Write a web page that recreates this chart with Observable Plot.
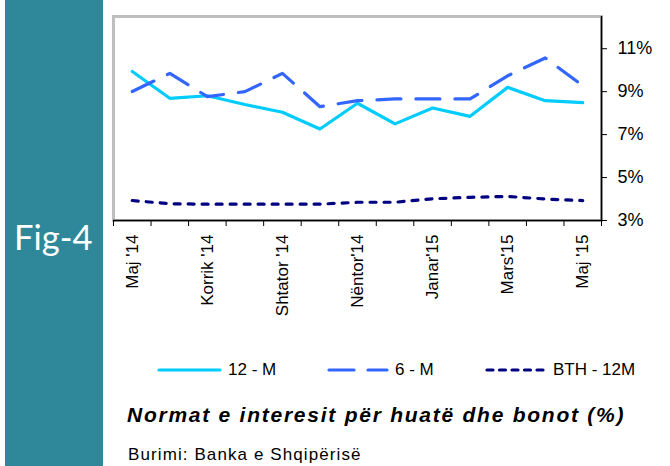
<!DOCTYPE html>
<html>
<head>
<meta charset="utf-8">
<script src="https://cdn.jsdelivr.net/npm/d3@7"></script>
<script src="https://cdn.jsdelivr.net/npm/@observablehq/plot@0.6"></script>
<style>
  html, body { margin: 0; padding: 0; background: #fff; }
  #page { position: relative; width: 670px; height: 466px; overflow: hidden; font-family: "Liberation Sans", Arial, sans-serif; }
  #side { position: absolute; left: 5px; top: 0; width: 98px; height: 466px; background: #2f889a; }
  #fig { position: absolute; left: 14px; top: 217px; color: #fff; font-family: Lato, "Open Sans", sans-serif; font-size: 34.5px; line-height: 40px; }
  #chart { position: absolute; left: 103px; top: 0; }
  #legend { position: absolute; top: 360px; left: 0; width: 670px; height: 20px; font-size: 17px; }
  .li { position: absolute; top: 0; display: flex; align-items: center; height: 20px; }
  .li span { margin-left: 6px; }
  #title { position: absolute; left: 127px; top: 403px; font-size: 21px; font-weight: bold; font-style: italic; letter-spacing: 1.75px; white-space: nowrap; }
  #source { position: absolute; left: 128px; top: 445px; font-size: 17px; letter-spacing: 1.1px; white-space: nowrap; }
</style>
</head>
<body>
<div id="page">
  <div id="side"></div>
  <div id="fig">Fig-4</div>
  <div id="chart"></div>
  <div id="legend"></div>
  <div id="title">Normat e interesit për huatë dhe bonot (%)</div>
  <div id="source">Burimi: Banka e Shqipërisë</div>
</div>
<script>
const months = ["Maj '14","Qershor '14","Korrik '14","Gusht '14","Shtator '14","Tetor '14","Nëntor'14","Dhjetor '14","Janar'15","Shkurt '15","Mars'15","Prill '15","Maj '15"];
const tickLabels = ["Maj '14","Korrik '14","Shtator '14","Nëntor'14","Janar'15","Mars'15","Maj '15"];
const series12M = [9.94, 8.69, 8.81, 8.40, 8.04, 7.26, 8.46, 7.50, 8.24, 7.85, 9.20, 8.58, 8.49];
const series6M  = [9.01, 9.85, 8.77, 9.00, 9.85, 8.30, 8.58, 8.66, 8.66, 8.66, 9.74, 10.57, 9.28];
const seriesBTH = [3.93, 3.78, 3.76, 3.76, 3.76, 3.76, 3.85, 3.85, 4.01, 4.08, 4.12, 4.00, 3.93];
const yTicks = [3, 5, 7, 9, 11];

const seriesDefs = [
  {name: "12 - M", values: series12M, color: "#00ccff", dash: null},
  {name: "6 - M", values: series6M, color: "#3366ff", dash: "24,15"},
  {name: "BTH - 12M", values: seriesBTH, color: "#000080", dash: "6,8"}
];

const idx = months.map((m, i) => i);
const boundaries = d3.range(-0.5, months.length, 1);
const labelIdx = tickLabels.map(l => months.indexOf(l));

const lineMarks = seriesDefs.map(s => Plot.line(idx, {
  x: i => i, y: i => s.values[i],
  stroke: s.color, strokeWidth: 3.2, strokeDasharray: s.dash, strokeLinecap: "round", strokeLinejoin: "round"
}));

const chart = Plot.plot({
  width: 567, height: 340,
  marginLeft: 10, marginRight: 69, marginTop: 16, marginBottom: 120,
  style: {fontFamily: "'Liberation Sans', Arial, sans-serif", overflow: "visible", background: "transparent"},
  x: {type: "linear", domain: [-0.5, months.length - 0.5]},
  y: {domain: [3, 12.5]},
  marks: [
    Plot.frame({stroke: "#bfbfbf", strokeWidth: 3}),
    ...lineMarks,
    Plot.ruleX([months.length - 0.5], {stroke: "#000", strokeWidth: 1.5}),
    Plot.ruleY([3], {stroke: "#000", strokeWidth: 1.5}),
    Plot.axisY({anchor: "right", ticks: yTicks, tickFormat: d => d + "%", tickSize: 5, tickPadding: 11, fontSize: 18, label: null, stroke: "#000", color: "#000"}),
    Plot.axisX({ticks: boundaries, tickFormat: () => "", tickSize: 6, label: null, stroke: "#000"}),
    Plot.axisX({ticks: labelIdx, tickFormat: i => months[i], tickSize: 0, tickPadding: 14, tickRotate: -90, fontSize: 17, label: null, fill: "#000"})
  ]
});
document.getElementById("chart").appendChild(chart);

// legend
const legendPos = [{line: 157, text: 228}, {line: 327, text: 395}, {line: 485, text: 553}];
const legend = document.getElementById("legend");
seriesDefs.forEach((s, k) => {
  const d = document.createElement("div");
  d.className = "li";
  d.style.left = legendPos[k].line + "px";
  const w = legendPos[k].text - legendPos[k].line - 6;
  const dash = s.dash ? (k === 1 ? "25,14" : "6,6.5") : null;
  d.innerHTML = `<svg width="${w}" height="10"><line x1="2" y1="5" x2="${w-2}" y2="5" stroke="${s.color}" stroke-width="3.2" stroke-linecap="round" ${dash ? `stroke-dasharray="${dash}"` : ""}/></svg><span>${s.name}</span>`;
  legend.appendChild(d);
});
</script>
</body>
</html>
